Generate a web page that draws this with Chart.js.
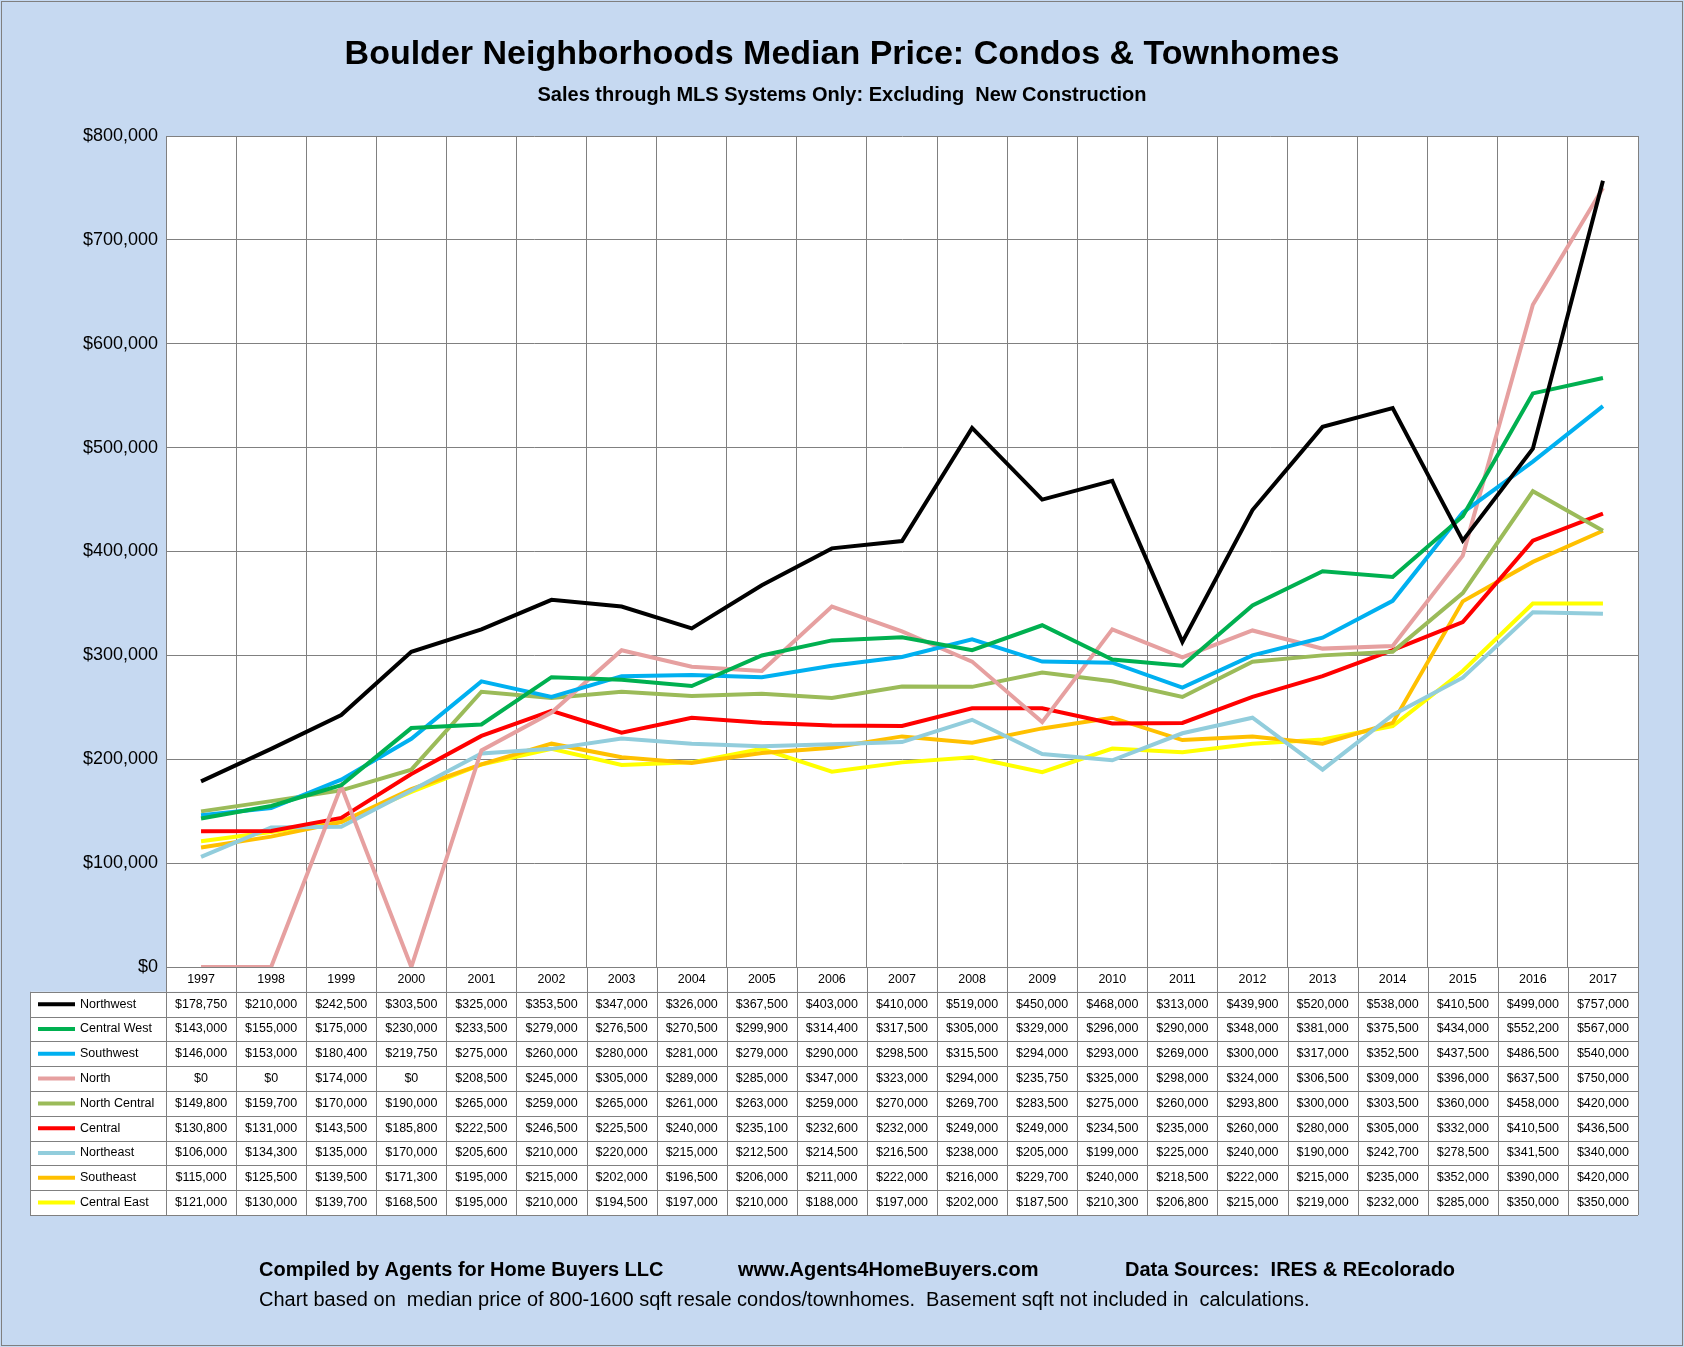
<!DOCTYPE html>
<html><head><meta charset="utf-8">
<script src="https://cdn.jsdelivr.net/npm/chart.js@4"></script>
<style>html,body{margin:0;padding:0;background:#c6d9f1}canvas{display:block}</style>
</head><body>
<div style="width:1684px;height:1347px"><canvas id="c"></canvas></div>
<script>
const years = ['1997','1998','1999','2000','2001','2002','2003','2004','2005','2006','2007','2008','2009','2010','2011','2012','2013','2014','2015','2016','2017'];
const northwest = [178750,210000,242500,303500,325000,353500,347000,326000,367500,403000,410000,519000,450000,468000,313000,439900,520000,538000,410500,499000,757000];
const centralWest = [143000,155000,175000,230000,233500,279000,276500,270500,299900,314400,317500,305000,329000,296000,290000,348000,381000,375500,434000,552200,567000];
const southwest = [146000,153000,180400,219750,275000,260000,280000,281000,279000,290000,298500,315500,294000,293000,269000,300000,317000,352500,437500,486500,540000];
const north = [0,0,174000,0,208500,245000,305000,289000,285000,347000,323000,294000,235750,325000,298000,324000,306500,309000,396000,637500,750000];
const northCentral = [149800,159700,170000,190000,265000,259000,265000,261000,263000,259000,270000,269700,283500,275000,260000,293800,300000,303500,360000,458000,420000];
const central = [130800,131000,143500,185800,222500,246500,225500,240000,235100,232600,232000,249000,249000,234500,235000,260000,280000,305000,332000,410500,436500];
const northeast = [106000,134300,135000,170000,205600,210000,220000,215000,212500,214500,216500,238000,205000,199000,225000,240000,190000,242700,278500,341500,340000];
const southeast = [115000,125500,139500,171300,195000,215000,202000,196500,206000,211000,222000,216000,229700,240000,218500,222000,215000,235000,352000,390000,420000];
const centralEast = [121000,130000,139700,168500,195000,210000,194500,197000,210000,188000,197000,202000,187500,210300,206800,215000,219000,232000,285000,350000,350000];

const series = [
  ['Northwest', northwest, '#000000'],
  ['Central West', centralWest, '#00b050'],
  ['Southwest', southwest, '#00b0f0'],
  ['North', north, '#e6a0a0'],
  ['North Central', northCentral, '#9bbb59'],
  ['Central', central, '#ff0000'],
  ['Northeast', northeast, '#92cddc'],
  ['Southeast', southeast, '#ffc000'],
  ['Central East', centralEast, '#ffff00']
];
const FONT = '"Liberation Sans", Arial, sans-serif';
const money = v => '$' + v.toLocaleString('en-US');

const decor = {
  id: 'decor',
  beforeDraw(chart) {
    const c = chart.ctx;
    c.save();
    c.fillStyle = '#c6d9f1';
    c.fillRect(0, 0, chart.width, chart.height);
    c.strokeStyle = '#7f7f7f'; c.lineWidth = 1;
    c.strokeRect(1.5, 1.5, chart.width - 3, chart.height - 3);
    const a = chart.chartArea;
    c.fillStyle = '#ffffff';
    c.fillRect(a.left, a.top, a.right - a.left, a.bottom - a.top);
    c.restore();
  },
  afterDraw(chart) {
    const c = chart.ctx, a = chart.chartArea, x = chart.scales.x;
    c.save();
    c.fillStyle = '#000';
    c.textAlign = 'center'; c.textBaseline = 'middle';
    c.font = 'bold 34px ' + FONT;
    c.fillText('Boulder Neighborhoods Median Price: Condos & Townhomes', 842, 55);
    c.font = 'bold 20px ' + FONT;
    c.fillText('Sales through MLS Systems Only: Excluding  New Construction', 842, 95);
    // table
    const rowH = 24.8, top = a.bottom, tl = 30;
    const colW = (a.right - a.left) / years.length;
    c.fillStyle = '#ffffff';
    c.fillRect(tl, top + rowH, a.right - tl, rowH * 9);
    c.fillRect(a.left, top, a.right - a.left, rowH);
    c.strokeStyle = '#808080'; c.lineWidth = 1;
    for (let r = 0; r <= 10; r++) {
      const y = Math.round(top + r * rowH) + 0.5;
      c.beginPath(); c.moveTo(r === 0 ? a.left : tl, y); c.lineTo(a.right, y); c.stroke();
    }
    for (let i = 0; i <= years.length; i++) {
      const xx = Math.round(a.left + i * colW) + 0.5;
      c.beginPath(); c.moveTo(xx, top); c.lineTo(xx, top + rowH * 10); c.stroke();
    }
    c.beginPath(); c.moveTo(tl + 0.5, top + rowH); c.lineTo(tl + 0.5, top + rowH * 10); c.stroke();
    c.font = '12.5px ' + FONT;
    c.fillStyle = '#000';
    years.forEach((y, i) => c.fillText(y, x.getPixelForValue(i), top + rowH / 2));
    series.forEach((s, r) => {
      const cy = top + (r + 1.5) * rowH;
      c.strokeStyle = s[2]; c.lineWidth = 4;
      c.beginPath(); c.moveTo(38, cy); c.lineTo(75, cy); c.stroke();
      c.textAlign = 'left'; c.fillStyle = '#000';
      c.fillText(s[0], 80, cy);
      c.textAlign = 'center';
      s[1].forEach((v, i) => c.fillText(money(v), x.getPixelForValue(i), cy));
    });
    c.font = 'bold 20px ' + FONT;
    c.textAlign = 'left';
    c.fillText('Compiled by Agents for Home Buyers LLC', 259, 1270);
    c.fillText('www.Agents4HomeBuyers.com', 738, 1270);
    c.fillText('Data Sources:  IRES & REcolorado', 1125, 1270);
    c.font = '20px ' + FONT;
    c.fillText('Chart based on  median price of 800-1600 sqft resale condos/townhomes.  Basement sqft not included in  calculations.', 259, 1300);
    c.restore();
  }
};

new Chart(document.getElementById('c'), {
  type: 'line',
  data: {
    labels: years,
    datasets: series.map(s => ({
      label: s[0], data: s[1], borderColor: s[2], backgroundColor: s[2],
      borderWidth: 4, pointRadius: 0, tension: 0
    }))
  },
  options: {
    responsive: true, maintainAspectRatio: false, animation: false,
    layout: { padding: { left: 36, right: 46, top: 136, bottom: 380 } },
    plugins: { legend: { display: false }, tooltip: { enabled: false } },
    scales: {
      x: {
        offset: true,
        grid: { offset: true, color: '#808080', drawTicks: false },
        border: { color: '#808080' },
        ticks: { display: false },
        afterFit: s => { s.height = 0; }
      },
      y: {
        min: 0, max: 800000,
        ticks: { stepSize: 100000, callback: v => money(v), color: '#000', font: { family: FONT, size: 18 }, padding: 8 },
        grid: { color: '#808080', drawTicks: false },
        border: { color: '#808080' },
        afterFit: s => { s.width = 130; }
      }
    }
  },
  plugins: [decor]
});
</script>
</body></html>
